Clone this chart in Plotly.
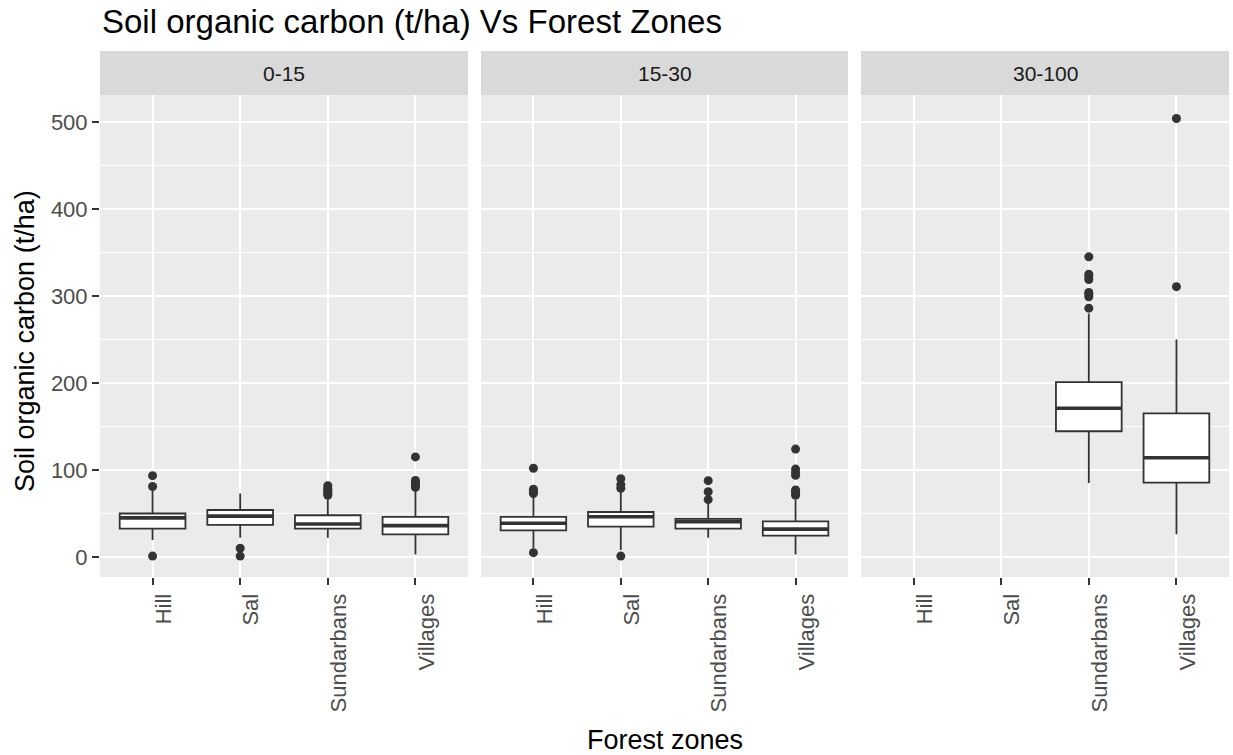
import plotly.graph_objects as go

# ---------------- data ----------------
categories = ["Hill", "Sal", "Sundarbans", "Villages"]
depths = ["0-15", "15-30", "30-100"]

# box statistics per depth panel (None = no data)
q1_0_15 = [32.5, 37, 32.5, 26]
med_0_15 = [45, 47, 38, 36]
q3_0_15 = [50, 54, 48, 46]
lo_0_15 = [19.5, 22, 22, 3]
hi_0_15 = [76, 73, 66, 76]
out_0_15 = [[1, 81, 93.5], [1, 10], [71, 73, 75, 77, 79, 82], [80, 82, 84, 86, 88, 115]]

q1_15_30 = [30.7, 34.8, 32.5, 24.5]
med_15_30 = [38.7, 46.3, 40.6, 32]
q3_15_30 = [46, 51.7, 43.7, 41]
lo_15_30 = [10, 8, 22, 3]
hi_15_30 = [68.6, 75, 61.7, 65.5]
out_15_30 = [[5, 73, 75, 78, 102], [1, 79, 83, 90], [66, 75, 87.7], [71, 73, 75, 77, 94, 97, 101, 124]]

q1_30_100 = [None, None, 144.5, 85.4]
med_30_100 = [None, None, 171, 114]
q3_30_100 = [None, None, 201, 165]
lo_30_100 = [None, None, 85, 26]
hi_30_100 = [None, None, 280, 250]
out_30_100 = [[], [], [286, 299, 302, 304, 319, 322, 325, 345], [310.7, 504]]

panels = [
    (q1_0_15, med_0_15, q3_0_15, lo_0_15, hi_0_15, out_0_15),
    (q1_15_30, med_15_30, q3_15_30, lo_15_30, hi_15_30, out_15_30),
    (q1_30_100, med_30_100, q3_30_100, lo_30_100, hi_30_100, out_30_100),
]

y_ticks = [0, 100, 200, 300, 400, 500]

# ---------------- layout geometry (pixels) ----------------
W, H = 1233, 755
ML, MR, MT, MB = 100, 4, 95, 178
PW, PH = W - ML - MR, H - MT - MB


def px_x(px):
    return (px - ML) / PW


def px_y(py):
    return (H - MB - py) / PH


panel_px = [(100, 468), (481, 848), (861, 1229)]
domains = [[px_x(a), px_x(b)] for a, b in panel_px]

FONT = "Liberation Sans, Arial, sans-serif"
BOXW = 0.75
LINE = "#333333"

fig = go.Figure()

for p, (q1, med, q3, lo, hi, outs) in enumerate(panels):
    ax = "" if p == 0 else str(p + 1)
    idx = [i for i in range(len(categories)) if q1[i] is not None]
    fig.add_trace(go.Box(
        x=idx,
        q1=[q1[i] for i in idx], median=[med[i] for i in idx], q3=[q3[i] for i in idx],
        lowerfence=[lo[i] for i in idx], upperfence=[hi[i] for i in idx],
        width=BOXW, fillcolor="white", line=dict(color=LINE, width=1.8),
        boxpoints=False, whiskerwidth=0, showlegend=False, hoverinfo="skip",
        xaxis="x" + ax, yaxis="y" + ax,
    ))
    # thicker median lines (ggplot style)
    mx, my = [], []
    for i in idx:
        mx += [i - BOXW / 2, i + BOXW / 2, None]
        my += [med[i], med[i], None]
    fig.add_trace(go.Scatter(
        x=mx, y=my, mode="lines", line=dict(color=LINE, width=3.6),
        showlegend=False, hoverinfo="skip", xaxis="x" + ax, yaxis="y" + ax,
    ))
    # outliers
    ox, oy = [], []
    for i, vals in enumerate(outs):
        ox += [i] * len(vals)
        oy += vals
    fig.add_trace(go.Scatter(
        x=ox, y=oy, mode="markers", marker=dict(color=LINE, size=9, line=dict(width=0)),
        showlegend=False, hoverinfo="skip", xaxis="x" + ax, yaxis="y" + ax,
    ))

tickfont = dict(family=FONT, size=22, color="#4D4D4D")
layout = dict(
    width=W, height=H,
    margin=dict(l=ML, r=MR, t=MT, b=MB),
    paper_bgcolor="white", plot_bgcolor="#EBEBEB",
    showlegend=False,
)
for p in range(3):
    ax = "" if p == 0 else str(p + 1)
    layout["xaxis" + ax] = dict(
        domain=domains[p], anchor="y" + ax, range=[-0.6, 3.6],
        tickmode="array", tickvals=list(range(len(categories))), ticktext=categories,
        tickangle=-90, ticks="outside", ticklen=7, tickwidth=2, tickcolor=LINE,
        ticklabelshift=11,
        tickfont=tickfont, showgrid=True, gridcolor="white", gridwidth=2,
        zeroline=False, showline=False, fixedrange=True,
    )
    layout["yaxis" + ax] = dict(
        anchor="x" + ax, range=[-23, 531],
        tickmode="array", tickvals=y_ticks,
        ticks="outside" if p == 0 else "", ticklen=7, tickwidth=2, tickcolor=LINE,
        showticklabels=(p == 0), tickfont=tickfont,
        showgrid=True, gridcolor="white", gridwidth=2,
        minor=dict(tickmode="array", tickvals=[50, 150, 250, 350, 450], showgrid=True,
                   gridcolor="white", gridwidth=1, ticks=""),
        zeroline=False, showline=False, fixedrange=True,
        **({} if p == 0 else {"matches": "y"}),
    )

shapes = []
annotations = []
for p, (a, b) in enumerate(panel_px):
    shapes.append(dict(type="rect", xref="paper", yref="paper",
                       x0=px_x(a), x1=px_x(b), y0=px_y(95), y1=px_y(51),
                       fillcolor="#D9D9D9", line=dict(width=0), layer="below"))
    annotations.append(dict(text=depths[p], xref="paper", yref="paper",
                            x=px_x((a + b) / 2), y=px_y(74), xanchor="center", yanchor="middle",
                            showarrow=False, font=dict(family=FONT, size=21, color="#1A1A1A")))

annotations.append(dict(text="Soil organic carbon (t/ha) Vs Forest Zones", xref="paper", yref="paper",
                        x=px_x(100), y=px_y(21), xanchor="left", yanchor="middle", showarrow=False,
                        font=dict(family=FONT, size=33, color="black")))
annotations.append(dict(text="Soil organic carbon (t/ha)", xref="paper", yref="paper",
                        x=px_x(25), y=px_y(341), xanchor="center", yanchor="middle", textangle=-90,
                        showarrow=False, font=dict(family=FONT, size=27, color="black")))
annotations.append(dict(text="Forest zones", xref="paper", yref="paper",
                        x=px_x(664.5), y=px_y(740), xanchor="center", yanchor="middle",
                        showarrow=False, font=dict(family=FONT, size=27, color="black")))

layout["shapes"] = shapes
layout["annotations"] = annotations
fig.update_layout(**layout)

fig.write_html("out.html")
